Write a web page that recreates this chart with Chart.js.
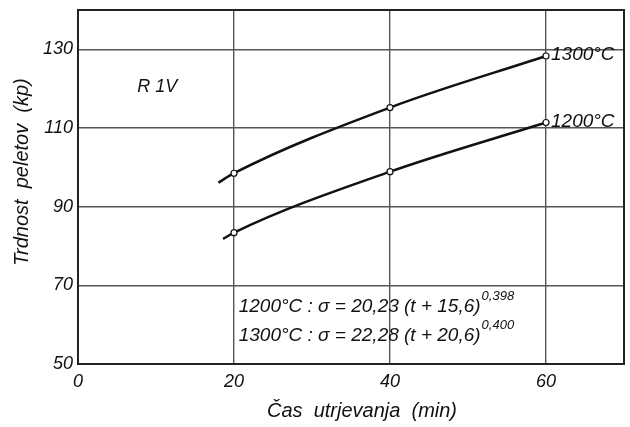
<!DOCTYPE html>
<html lang="sl">
<head>
<meta charset="UTF-8">
<title>Trdnost peletov</title>
<script src="https://cdn.jsdelivr.net/npm/chart.js"></script>
<style>
  html, body { margin: 0; padding: 0; background: #fff; }
  #wrap { width: 630px; height: 427px; }
</style>
</head>
<body>
<div id="wrap"><canvas id="chart" width="630" height="427"></canvas></div>
<script>
// casi utrjevanja (min) in izmerjene trdnosti (kp)
const cas1300 = [18, 20, 40, 60];
const trdnost1300 = [96.1, 98.5, 115.2, 128.3];
const cas1200 = [18.6, 20, 40, 60];
const trdnost1200 = [81.8, 83.4, 98.9, 111.4];
const markerji = [0, 3, 3, 3]; // prva tocka je samo zacetek krivulje
const xTicks = [0, 20, 40, 60];
const yTicks = [50, 70, 90, 110, 130];

const pisava = 'Liberation Sans, Arial, sans-serif';
const crta = '#222';
const mreza = '#555';

function tocke(xs, ys) {
    return xs.map((x, i) => ({ x: x, y: ys[i] }));
}

// okvir, naslovi osi in napisi na grafu
const napisi = {
    id: 'napisi',
    afterDatasetsDraw(chart) {
        const ctx = chart.ctx;
        const a = chart.chartArea;
        const x = chart.scales.x, y = chart.scales.y;
        ctx.save();
        ctx.strokeStyle = crta;
        ctx.lineWidth = 2;
        ctx.strokeRect(a.left, a.top, a.right - a.left, a.bottom - a.top);

        ctx.fillStyle = '#111';
        ctx.textBaseline = 'middle';
        ctx.textAlign = 'left';
        ctx.font = 'italic 19px ' + pisava;
        ctx.fillText('1300°C', x.getPixelForValue(60) + 5, y.getPixelForValue(128.3) - 1);
        ctx.fillText('1200°C', x.getPixelForValue(60) + 5, y.getPixelForValue(111.4) - 1);
        ctx.font = 'italic 18px ' + pisava;
        ctx.fillText('R 1V', x.getPixelForValue(7.6), y.getPixelForValue(120.3));

        // enacbi
        const enacba = (px, py, osnova, eksp) => {
            ctx.font = 'italic 19px ' + pisava;
            ctx.fillText(osnova, px, py);
            const w = ctx.measureText(osnova).width;
            ctx.font = 'italic 13px ' + pisava;
            ctx.fillText(eksp, px + w + 1, py - 10);
        };
        enacba(x.getPixelForValue(20.6), y.getPixelForValue(64.6), '1200°C : σ = 20,23 (t + 15,6)', '0,398');
        enacba(x.getPixelForValue(20.6), y.getPixelForValue(57.2), '1300°C : σ = 22,28 (t + 20,6)', '0,400');

        // naslova osi
        ctx.textAlign = 'center';
        ctx.font = 'italic 20px ' + pisava;
        ctx.fillText('Čas  utrjevanja  (min)', 362, 411);
        ctx.translate(22, 172);
        ctx.rotate(-Math.PI / 2);
        ctx.fillText('Trdnost  peletov  (kp)', 0, 0);
        ctx.restore();
    }
};

new Chart(document.getElementById('chart'), {
    type: 'line',
    data: {
        datasets: [
            {
                label: '1300°C',
                data: tocke(cas1300, trdnost1300),
                borderColor: '#111',
                borderWidth: 2.5,
                pointRadius: markerji,
                pointBackgroundColor: '#fff',
                pointBorderColor: '#111',
                pointBorderWidth: 1.2,
                cubicInterpolationMode: 'monotone',
                fill: false
            },
            {
                label: '1200°C',
                data: tocke(cas1200, trdnost1200),
                borderColor: '#111',
                borderWidth: 2.5,
                pointRadius: markerji,
                pointBackgroundColor: '#fff',
                pointBorderColor: '#111',
                pointBorderWidth: 1.2,
                cubicInterpolationMode: 'monotone',
                fill: false
            }
        ]
    },
    options: {
        responsive: false,
        animation: false,
        layout: { padding: { top: 10, right: 6, left: 0, bottom: 0 } },
        plugins: {
            legend: { display: false },
            tooltip: { enabled: false }
        },
        scales: {
            x: {
                type: 'linear',
                min: 0,
                max: 70,
                afterBuildTicks: s => { s.ticks = xTicks.map(v => ({ value: v })); },
                afterFit: s => { s.height = 63; s.paddingLeft = 0; s.paddingRight = 0; },
                grid: { color: mreza, lineWidth: 1.4, drawTicks: false },
                border: { display: false },
                ticks: {
                    color: '#111',
                    padding: 7,
                    font: { family: pisava, size: 18, style: 'italic' }
                }
            },
            y: {
                min: 50,
                max: 140,
                afterBuildTicks: s => { s.ticks = yTicks.map(v => ({ value: v })); },
                afterFit: s => { s.width = 78; s.paddingTop = 0; s.paddingBottom = 0; },
                grid: { color: mreza, lineWidth: 1.4, drawTicks: false },
                border: { display: false },
                ticks: {
                    color: '#111',
                    padding: 5,
                    font: { family: pisava, size: 18, style: 'italic' }
                }
            }
        }
    },
    plugins: [napisi]
});
</script>
</body>
</html>
